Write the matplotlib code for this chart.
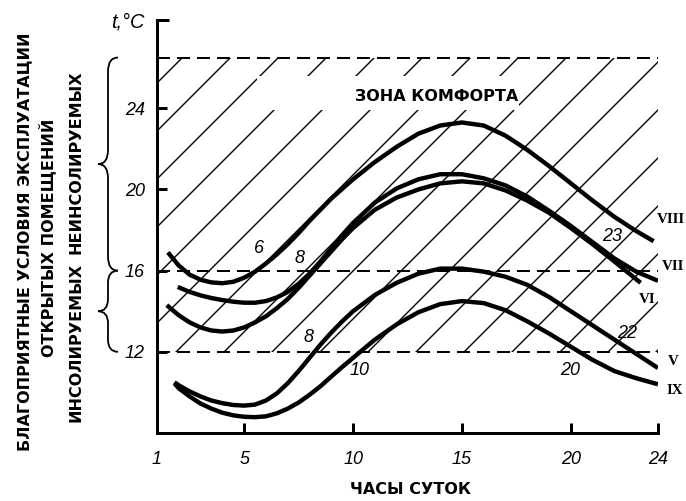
import matplotlib.pyplot as plt
from matplotlib.path import Path
from matplotlib.patches import PathPatch, Rectangle
from matplotlib.transforms import blended_transform_factory

plt.rcParams['hatch.linewidth'] = 0.7
plt.rcParams['font.family'] = ['Liberation Sans', 'DejaVu Sans']

# hours of day / air temperature, one curve per month
h_viii = [1.5, 2, 2.5, 3, 3.5, 4, 4.5, 5, 5.5, 6, 6.5, 7, 7.5, 8, 8.5, 9, 10, 11, 12, 13, 14,
          15, 16, 17, 18, 19, 20, 21, 22, 23, 23.8]
t_viii = [16.9, 16.25, 15.8, 15.55, 15.42, 15.38, 15.45, 15.65, 15.95, 16.35, 16.8, 17.3, 17.85,
          18.45, 19.0, 19.55, 20.5, 21.35, 22.1, 22.75, 23.15, 23.3, 23.15, 22.65, 21.95, 21.15,
          20.3, 19.45, 18.65, 17.95, 17.45]

h_vii = [1.95, 2.5, 3, 3.5, 4, 4.5, 5, 5.5, 6, 6.5, 7, 7.5, 8, 8.5, 9, 9.5, 10, 11, 12, 13, 14,
         15, 16, 17, 18, 19, 20, 21, 22, 23, 24]
t_vii = [15.2, 14.95, 14.78, 14.65, 14.55, 14.47, 14.42, 14.42, 14.5, 14.68, 14.95, 15.35, 15.85,
         16.45, 17.1, 17.75, 18.35, 19.35, 20.05, 20.5, 20.75, 20.75, 20.55, 20.2, 19.65, 18.95,
         18.2, 17.4, 16.6, 15.95, 15.5]

h_vi = [1.45, 2, 2.5, 3, 3.5, 4, 4.5, 5, 5.5, 6, 6.5, 7, 7.5, 8, 8.5, 9, 9.5, 10, 11, 12, 13, 14,
        15, 16, 17, 18, 19, 20, 21, 22, 23.2]
t_vi = [14.3, 13.8, 13.45, 13.2, 13.05, 13.0, 13.05, 13.2, 13.45, 13.75, 14.15, 14.6, 15.15, 15.75,
        16.35, 16.95, 17.55, 18.1, 19.0, 19.6, 20.0, 20.3, 20.4, 20.3, 19.95, 19.45, 18.85, 18.1,
        17.3, 16.45, 15.4]

h_v = [1.8, 2, 2.5, 3, 3.5, 4, 4.5, 5, 5.5, 6, 6.5, 7, 7.5, 8, 8.5, 9, 9.5, 10, 11, 12, 13, 14,
       15, 16, 17, 18, 19, 20, 21, 22, 23, 24]
t_v = [10.5, 10.35, 10.05, 9.8, 9.6, 9.47, 9.38, 9.35, 9.4, 9.6, 9.95, 10.45, 11.05, 11.7, 12.35,
       12.95, 13.5, 14.0, 14.8, 15.4, 15.85, 16.1, 16.1, 15.95, 15.7, 15.3, 14.7, 14.0, 13.3, 12.6,
       11.9, 11.2]

h_ix = [1.8, 2, 2.5, 3, 3.5, 4, 4.5, 5, 5.5, 6, 6.5, 7, 7.5, 8, 8.5, 9, 9.5, 10, 11, 12, 13, 14,
        15, 16, 17, 18, 19, 20, 21, 22, 23, 24]
t_ix = [10.45, 10.2, 9.8, 9.45, 9.2, 9.0, 8.87, 8.8, 8.78, 8.82, 8.97, 9.2, 9.5, 9.88, 10.3,
        10.78, 11.25, 11.7, 12.6, 13.35, 13.95, 14.35, 14.5, 14.4, 14.05, 13.5, 12.9, 12.25, 11.6,
        11.05, 10.7, 10.4]

curves = [(h_viii, t_viii), (h_vii, t_vii), (h_vi, t_vi), (h_v, t_v), (h_ix, t_ix)]

# month labels at right end (x, y, alignment)
month_names = ['VIII', 'VII', 'VI', 'V', 'IX']
month_pos = [(25.22, 18.5, 'right'), (25.22, 16.2, 'right'), (23.1, 14.6, 'left'),
             (24.45, 11.5, 'left'), (24.4, 10.1, 'left')]

# hour marks written along curves
hour_marks = ['6', '8', '8', '10', '23', '22', '20']
hour_pos = [(5.7, 17.1), (7.55, 16.6), (7.95, 12.7), (10.3, 11.1), (21.9, 17.7), (22.6, 12.9), (19.95, 11.1)]

zone_low, zone_mid, zone_high = 12, 16, 26.5
x_ticks = [1, 5, 10, 15, 20, 24]
y_ticks = [12, 16, 20, 24]

W, H = 686, 501
fig = plt.figure(figsize=(W / 144, H / 144), dpi=144)
ax = fig.add_axes([157 / W, 68 / H, 501 / W, 413 / H])
ax.set_xlim(1, 24)
ax.set_ylim(8, 28.35)

# comfort zone hatching
ax.fill_between([1, 24], zone_low, zone_high, facecolor='none', edgecolor='black',
                hatch='/', linewidth=0, zorder=1)
ax.add_patch(Rectangle((5.6, 23.9), 12.0, 1.7, facecolor='white', edgecolor='none', zorder=1.5))
for lvl in [zone_low, zone_mid, zone_high]:
    ax.plot([1, 24], [lvl, lvl], color='black', lw=1.0, dashes=(6.5, 3.5), zorder=2)

for hh, tt in curves:
    ax.plot(hh, tt, color='black', lw=2.2, solid_capstyle='butt', solid_joinstyle='round', zorder=3)

ax.text(13.86, 24.6, 'ЗОНА КОМФОРТА', ha='center', va='center', fontsize=8,
        fontweight='bold', family='DejaVu Sans', zorder=4)

for name, (x, y, al) in zip(month_names, month_pos):
    ax.text(x, y, name, ha=al, va='center', fontsize=7.5, fontweight='bold',
            family=['Liberation Serif', 'DejaVu Serif'], clip_on=False)
for m, (x, y) in zip(hour_marks, hour_pos):
    ax.text(x, y, m, ha='center', va='center', fontsize=9, style='italic', zorder=4)

ax.spines[['top', 'right']].set_visible(False)
for s in ['left', 'bottom']:
    ax.spines[s].set_linewidth(1.5)
ax.set_xticks(x_ticks)
ax.set_yticks(y_ticks)
ax.set_yticks([28.35], minor=True)
ax.tick_params(direction='in', length=5, width=1.5, labelsize=9)
ax.tick_params(axis='y', which='minor', direction='in', length=6, width=1.5)
ax.tick_params(axis='x', pad=9)
ax.tick_params(axis='y', pad=6)
for lab in ax.get_xticklabels() + ax.get_yticklabels():
    lab.set_style('italic')

fig.text(128 / W, 1 - 22 / H, 't,°C', ha='center', va='center', fontsize=10, style='italic')
fig.text(411 / W, 1 - 490 / H, 'ЧАСЫ СУТОК', ha='center', va='center', fontsize=8,
         fontweight='bold', family='DejaVu Sans')

ylab_kw = dict(rotation=90, ha='center', va='center', fontsize=8, fontweight='bold', family='DejaVu Sans')
fig.text(25 / W, 1 - 242 / H, 'БЛАГОПРИЯТНЫЕ УСЛОВИЯ ЭКСПЛУАТАЦИИ', **ylab_kw)
fig.text(47 / W, 1 - 238 / H, 'ОТКРЫТЫХ ПОМЕЩЕНИЙ', **ylab_kw)
fig.text(76 / W, 1 - 162 / H, 'НЕИНСОЛИРУЕМЫХ', **ylab_kw)
fig.text(76 / W, 1 - 342 / H, 'ИНСОЛИРУЕМЫХ', **ylab_kw)


def brace(y0, y1, r):
    tr = blended_transform_factory(fig.transFigure, ax.transData)
    xt, xb, xe = 98 / W, 108 / W, 118 / W
    ym = (y0 + y1) / 2
    verts = [(xe, y1), (xb, y1), (xb, y1 - r), (xb, ym + r), (xb, ym), (xt, ym),
             (xb, ym), (xb, ym - r), (xb, y0 + r), (xb, y0), (xe, y0)]
    codes = [Path.MOVETO, Path.CURVE3, Path.CURVE3, Path.LINETO, Path.CURVE3, Path.CURVE3,
             Path.CURVE3, Path.CURVE3, Path.LINETO, Path.CURVE3, Path.CURVE3]
    fig.add_artist(PathPatch(Path(verts, codes), transform=tr, fill=False, lw=0.9, color='black'))


brace(zone_mid, zone_high, 0.7)
brace(zone_low, zone_mid, 0.6)

fig.savefig('out.png', dpi=144)
